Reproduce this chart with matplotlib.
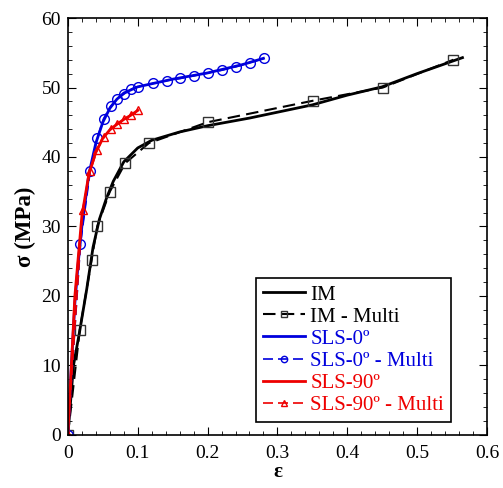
import numpy as np
import matplotlib.pyplot as plt

plt.rcParams['font.family'] = ['Liberation Serif', 'DejaVu Serif']
plt.rcParams['mathtext.fontset'] = 'stix'

# IM
im_x = [0, 0.008, 0.017, 0.027, 0.036, 0.045, 0.055, 0.065, 0.08, 0.1, 0.12, 0.16, 0.2, 0.26, 0.35, 0.4, 0.45, 0.5, 0.565]
im_y = [0, 10, 15, 21, 27, 31, 34, 36.5, 39.3, 41.3, 42.4, 43.6, 44.5, 45.6, 47.5, 48.9, 50.1, 52.0, 54.3]
im_mx = [0, 0.017, 0.034, 0.042, 0.06, 0.082, 0.116, 0.2, 0.351, 0.451, 0.552]
im_my = [0, 15.1, 25.2, 30, 35, 39.1, 42, 45, 48.1, 50, 54]

# SLS-0
s0_x = [0, 0.005, 0.01, 0.015, 0.02, 0.03, 0.04, 0.05, 0.06, 0.07, 0.08, 0.1, 0.15, 0.2, 0.25, 0.28]
s0_y = [0, 10, 19, 25, 30, 37.5, 42, 45, 47, 48.3, 49.2, 50.1, 51.2, 52.1, 53.3, 54.2]
s0_mx = [0, 0.018, 0.032, 0.042, 0.051, 0.061, 0.071, 0.081, 0.091, 0.101, 0.122, 0.142, 0.161, 0.181, 0.201, 0.221, 0.241, 0.261, 0.281]
s0_my = [0, 27.5, 38.0, 42.7, 45.5, 47.3, 48.4, 49.1, 49.8, 50.1, 50.6, 51.0, 51.3, 51.7, 52.1, 52.5, 53.0, 53.6, 54.2]

# SLS-90
s90_x = [0, 0.005, 0.01, 0.02, 0.03, 0.04, 0.05, 0.06, 0.07, 0.08, 0.09, 0.1]
s90_y = [0, 10, 20, 31.5, 37.5, 40.7, 42.7, 43.9, 44.7, 45.4, 46, 46.7]
s90_mx = [0, 0.021, 0.032, 0.042, 0.052, 0.061, 0.071, 0.081, 0.091, 0.101]
s90_my = [0, 32.4, 38.0, 41.0, 42.9, 44.0, 44.7, 45.5, 46.1, 46.8]

fig = plt.figure(figsize=(5.03, 4.88), dpi=100)
ax = fig.add_axes([0.135, 0.109, 0.833, 0.854])

ax.plot(im_x, im_y, color='black', lw=2, label='IM')
ax.plot(im_mx, im_my, color='black', lw=1.5, ls=(0, (6, 3)), marker='s', ms=7,
        mfc='none', mec='#333333', mew=1, label='IM - Multi')
ax.plot(s0_x, s0_y, color='#0000dd', lw=2, label='SLS-0º')
ax.plot(s0_mx, s0_my, color='#0000dd', lw=1.2, ls=(0, (6, 3)), marker='o', ms=7,
        mfc='none', mew=1, label='SLS-0º - Multi')
ax.plot(s90_x, s90_y, color='#ee0000', lw=2, label='SLS-90º')
ax.plot(s90_mx, s90_my, color='#ee0000', lw=1.2, ls=(0, (6, 3)), marker='^', ms=6,
        mfc='none', mew=1, label='SLS-90º - Multi')

ax.set_xlim(0, 0.6)
ax.set_ylim(0, 60)
ax.set_xticks(np.arange(0, 0.61, 0.1))
ax.set_xticklabels(['0', '0.1', '0.2', '0.3', '0.4', '0.5', '0.6'])
ax.set_xticks(np.arange(0, 0.6, 0.02), minor=True)
ax.set_yticks(np.arange(0, 61, 10))
ax.set_yticks(np.arange(0, 60, 2), minor=True)
ax.tick_params(which='both', direction='in', top=True, right=True, labelsize=14)
ax.tick_params(axis='x', which='major', pad=7)
ax.tick_params(axis='y', which='major', pad=5)
ax.tick_params(which='major', length=6)
ax.tick_params(which='minor', length=3)
for s in ax.spines.values():
    s.set_linewidth(1.2)

ax.set_xlabel('ε', fontsize=15, fontweight='bold', labelpad=0)
ax.set_ylabel('σ (MPa)', fontsize=16.5, fontweight='bold', labelpad=4)

leg = ax.legend(loc='lower right', bbox_to_anchor=(0.915, 0.03), fontsize=15,
                frameon=True, fancybox=False, edgecolor='black', framealpha=1,
                handlelength=2.0, handletextpad=0.25, borderpad=0.35, labelspacing=0.12,
                markerscale=0.65, borderaxespad=0)
leg.get_frame().set_linewidth(1.2)
for t, c in zip(leg.get_texts(), ['black', 'black', '#0000dd', '#0000dd', '#ee0000', '#ee0000']):
    t.set_color(c)

plt.savefig('out.png', dpi=100)
